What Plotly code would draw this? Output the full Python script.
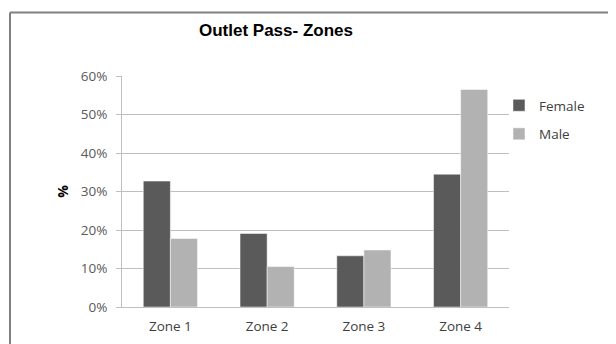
import plotly.graph_objects as go

categories = ["Zone 1", "Zone 2", "Zone 3", "Zone 4"]
female = [0.327, 0.191, 0.133, 0.345]
male = [0.178, 0.105, 0.148, 0.565]
y_ticks = [0, 0.1, 0.2, 0.3, 0.4, 0.5, 0.6]
y_tick_labels = ["0%", "10%", "20%", "30%", "40%", "50%", "60%"]

# page has an 8px body margin; work in screen pixels and shift
OFF = 8
W, H = 616 - OFF, 344 - OFF
PL, PR, PT, PB = 122, 509, 76, 307  # plot area in screen pixels
ML, MR, MT, MB = PL - OFF, W - (PR - OFF), PT - OFF, H - (PB - OFF)
PW, PH = PR - PL, PB - PT

def px_x(px):
    return (px - PL) / PW

def px_y(py):
    return (PB - py) / PH

fig = go.Figure()
fig.add_trace(go.Bar(x=categories, y=female, name="Female", legendgroup="f",
                     marker=dict(color="#5a5a5a", line=dict(color="#ffffff", width=0.5))))
fig.add_trace(go.Bar(x=categories, y=male, name="Male", legendgroup="m",
                     marker=dict(color="#b2b2b2", line=dict(color="#ffffff", width=0.5))))

fig.update_layout(
    width=W, height=H,
    margin=dict(l=ML, r=MR, t=MT, b=MB, autoexpand=False),
    paper_bgcolor="white", plot_bgcolor="white",
    barmode="group", bargap=0.44, bargroupgap=0,
    title=dict(text="<b>Outlet Pass- Zones</b>", x=(276 - OFF) / W, xanchor="center",
               y=1 - (30 - OFF) / H, yanchor="middle",
               font=dict(family="Liberation Sans, Arial", size=17, color="#000000")),
    font=dict(family="Open Sans, sans-serif", size=13.5, color="#595959"),
    legend=dict(x=px_x(499), xanchor="left", y=px_y(90), yanchor="top",
                font=dict(size=13.5, color="#404040"), traceorder="grouped",
                tracegroupgap=8, itemwidth=30, bgcolor="rgba(0,0,0,0)"),
    showlegend=True,
    shapes=[
        dict(type="line", xref="paper", yref="paper", x0=px_x(10), x1=px_x(640),
             y0=px_y(12.5), y1=px_y(12.5), line=dict(color="#808080", width=2)),
        dict(type="line", xref="paper", yref="paper", x0=px_x(10), x1=px_x(10),
             y0=px_y(12.5), y1=px_y(360), line=dict(color="#808080", width=2)),
    ],
)

fig.update_xaxes(showline=True, linecolor="#bfbfbf", linewidth=1,
                 showgrid=False, ticks="", tickfont=dict(size=13.5, color="#404040"),
                 ticklabelstandoff=7)
fig.update_yaxes(range=[0, 0.6], tickvals=y_ticks, ticktext=y_tick_labels,
                 showline=True, linecolor="#bfbfbf", linewidth=1,
                 showgrid=True, gridcolor="#bfbfbf", gridwidth=1,
                 ticks="outside", ticklen=5, tickcolor="#bfbfbf",
                 tickfont=dict(size=13.5, color="#595959"),
                 ticklabelstandoff=6,
                 zeroline=False,
                 title=dict(text="<b>%</b>", standoff=8,
                            font=dict(size=14, color="#000000")))

fig.write_html("out.html")
